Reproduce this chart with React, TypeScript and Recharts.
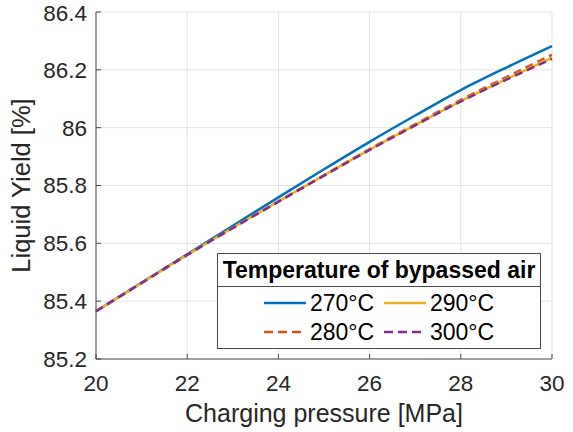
import { CartesianGrid, Line, LineChart, XAxis, YAxis } from 'recharts'

const pressure = [20, 21, 22, 23, 24, 25, 26, 27, 28, 29, 30]
const yield270 = [85.365, 85.464, 85.562, 85.661, 85.759, 85.856, 85.951, 86.042, 86.13, 86.208, 86.282]
const yield280 = [85.365, 85.463, 85.56, 85.654, 85.745, 85.836, 85.926, 86.012, 86.096, 86.175, 86.252]
const yield290 = [85.365, 85.463, 85.56, 85.654, 85.745, 85.835, 85.924, 86.009, 86.092, 86.168, 86.242]
const yield300 = [85.365, 85.463, 85.56, 85.653, 85.744, 85.834, 85.923, 86.008, 86.091, 86.166, 86.238]

const xTicks = [20, 22, 24, 26, 28, 30]
const yTicks = [85.2, 85.4, 85.6, 85.8, 86, 86.2, 86.4]

const series = [
  { key: 't270', name: '270°C', color: '#0072BD', dash: undefined, values: yield270 },
  { key: 't280', name: '280°C', color: '#D95319', dash: '8 5', values: yield280 },
  { key: 't290', name: '290°C', color: '#EDB120', dash: undefined, values: yield290 },
  { key: 't300', name: '300°C', color: '#7E2F8E', dash: '8 5', values: yield300 },
]

const data = pressure.map((p, i) => {
  const row: Record<string, number> = { p }
  series.forEach((s) => (row[s.key] = s.values[i]))
  return row
})

const FONT = "'Liberation Sans', Arial, Helvetica, sans-serif"
const AXIS = '#4a4a4a'
const TEXT = '#262626'

// legend layout: columns 270/290 then 280/300
const legendSlots = [
  { left: 46, top: 49 },
  { left: 46, top: 78 },
  { left: 166, top: 49 },
  { left: 166, top: 78 },
]

function LegendBox() {
  return (
    <div
      style={{
        position: 'absolute',
        left: 217,
        top: 253,
        width: 322,
        height: 94,
        border: `1px solid ${AXIS}`,
        background: '#fff',
        fontFamily: FONT,
        color: '#000',
      }}
    >
      <div
        style={{
          height: 32,
          borderBottom: `1px solid ${AXIS}`,
          fontWeight: 'bold',
          fontSize: 23,
          lineHeight: '32px',
          textAlign: 'center',
        }}
      >
        Temperature of bypassed air
      </div>
      {series.map((s, i) => (
        <div
          key={s.key}
          style={{
            position: 'absolute',
            left: legendSlots[i].left,
            top: legendSlots[i].top - 13,
            height: 26,
            display: 'flex',
            alignItems: 'center',
            fontSize: 23,
            whiteSpace: 'nowrap',
          }}
        >
          <svg width={42} height={6} style={{ marginRight: 4 }}>
            <line x1={0} y1={3} x2={42} y2={3} stroke={s.color} strokeWidth={2.5} strokeDasharray={s.dash ? '9 5' : undefined} />
          </svg>
          {s.name}
        </div>
      ))}
    </div>
  )
}

export default function App() {
  return (
    <div style={{ position: 'relative', width: 573, height: 432, background: '#fff' }}>
      <style>{'body{margin:0}'}</style>
      <LineChart width={573} height={432} data={data} margin={{ top: 12, right: 21, bottom: 0, left: 0 }}>
        <CartesianGrid stroke="#e3e3e3" horizontalValues={yTicks} verticalValues={xTicks} />
        <XAxis
          dataKey="p"
          type="number"
          domain={[20, 30]}
          ticks={xTicks}
          height={73}
          stroke={AXIS}
          tickSize={-5}
          tickMargin={21}
          tick={{ fontSize: 22.5, fill: TEXT, fontFamily: FONT }}
          label={{
            value: 'Charging pressure [MPa]',
            position: 'insideBottom',
            offset: 10,
            fontSize: 25,
            fill: TEXT,
            fontFamily: FONT,
          }}
        />
        <XAxis
          xAxisId="top"
          orientation="top"
          dataKey="p"
          type="number"
          domain={[20, 30]}
          ticks={xTicks}
          height={0}
          stroke={AXIS}
          tickSize={-5}
          tickFormatter={() => ''}
        />
        <YAxis
          type="number"
          domain={[85.2, 86.4]}
          ticks={yTicks}
          width={96}
          stroke={AXIS}
          tickSize={-5}
          tickMargin={14}
          tickFormatter={(v) => String(Math.round(v * 10) / 10)}
          tick={{ fontSize: 22.5, fill: TEXT, fontFamily: FONT }}
          label={{
            value: 'Liquid Yield [%]',
            angle: -90,
            position: 'insideLeft',
            offset: 21,
            style: { textAnchor: 'middle' },
            fontSize: 25.5,
            fill: TEXT,
            fontFamily: FONT,
          }}
        />
        <YAxis
          yAxisId="right"
          orientation="right"
          type="number"
          domain={[85.2, 86.4]}
          ticks={yTicks}
          width={0}
          stroke={AXIS}
          tickSize={-5}
          tickFormatter={() => ''}
        />
        {series.map((s) => (
          <Line
            key={s.key}
            dataKey={s.key}
            name={s.name}
            type="monotone"
            stroke={s.color}
            strokeWidth={2.5}
            strokeDasharray={s.dash}
            dot={false}
            isAnimationActive={false}
          />
        ))}
      </LineChart>
      <LegendBox />
    </div>
  )
}
